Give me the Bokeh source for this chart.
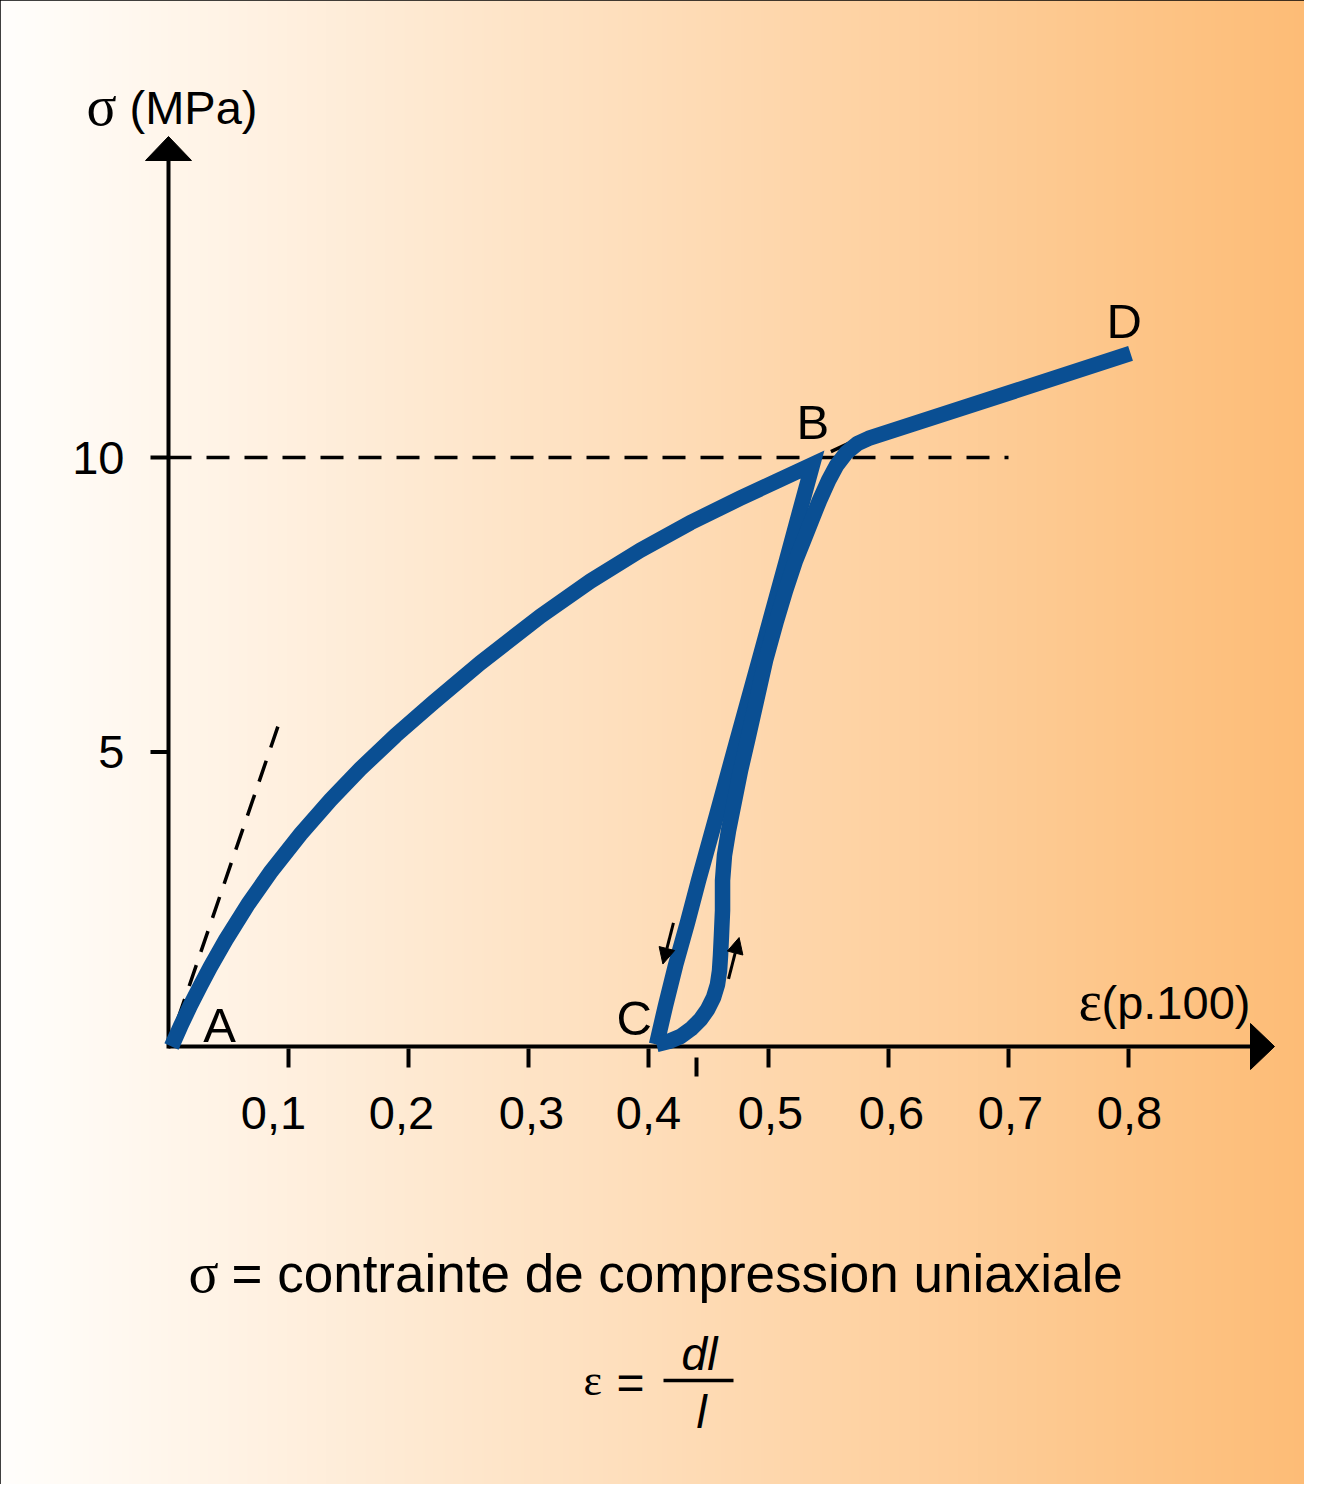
import numpy as np
from bokeh.plotting import figure
from bokeh.models import Range1d, Arrow, NormalHead
from bokeh.core.properties import value
from bokeh.embed import file_html
from bokeh.resources import INLINE

# ---------------- data (strain in %, stress in MPa) ----------------
load_eps = [0.0025, 0.010, 0.0183, 0.0267, 0.035, 0.0475, 0.0667, 0.085, 0.110, 0.135, 0.160,
            0.1892, 0.2208, 0.260, 0.310, 0.3517, 0.3933, 0.435, 0.4767, 0.5067, 0.5367]
load_sig = [0.0, 0.343, 0.700, 1.036, 1.355, 1.803, 2.428, 2.959, 3.606, 4.187, 4.716,
            5.280, 5.842, 6.513, 7.307, 7.902, 8.428, 8.895, 9.311, 9.598, 9.880]

unload_eps = [0.5367, 0.5267, 0.515, 0.4933, 0.4733, 0.4567, 0.4417, 0.4325, 0.4225, 0.4142, 0.4067]
unload_sig = [9.880, 9.134, 8.251, 6.638, 5.161, 3.922, 2.818, 2.105, 1.375, 0.696, 0.034]

reload_eps = [0.4067, 0.4167, 0.4267, 0.4358, 0.4433, 0.4492, 0.4542, 0.4575, 0.4592, 0.4600,
              0.4608, 0.4617, 0.4617, 0.4633, 0.4667, 0.4717, 0.4767, 0.4825, 0.4900, 0.4975,
              0.5067, 0.5142, 0.5225, 0.5292, 0.5358, 0.5425, 0.5500, 0.5567, 0.5650, 0.5742,
              0.5833, 0.8017]
reload_sig = [0.034, 0.085, 0.170, 0.306, 0.458, 0.628, 0.832, 1.053, 1.290, 1.545,
              1.885, 2.309, 2.818, 3.243, 3.667, 4.177, 4.686, 5.195, 5.874, 6.553,
              7.233, 7.742, 8.251, 8.591, 8.930, 9.270, 9.610, 9.864, 10.085, 10.238,
              10.323, 11.766]

x_ticks = [0.1, 0.2, 0.3, 0.4, 0.5, 0.6, 0.7, 0.8]
x_tick_labels = ["0,1", "0,2", "0,3", "0,4", "0,5", "0,6", "0,7", "0,8"]
y_ticks = [5, 10]
y_tick_labels = ["5", "10"]
extra_tick = [0.44]

tangent_eps = [0.0, 0.094]
tangent_sig = [0.0, 5.6]
b_tangent_eps = [0.552, 0.574]
b_tangent_sig = [10.10, 10.31]
ref_eps = [0.0, 0.7]
ref_sig = [10.0, 10.0]

point_names = ["A", "B", "C", "D"]
point_eps = [0.029, 0.5233, 0.3733, 0.7817]
point_sig = [0.36, 10.60, 0.48, 12.31]

# unload / reload direction arrows near C
arrow_down = dict(x0=0.4208, y0=2.10, x1=0.4120, y1=1.40)
arrow_up = dict(x0=0.4667, y0=1.15, x1=0.4755, y1=1.85)

# ---------------- layout ----------------
W, H = 1304, 1484
XS = 1200.0   # px per unit strain
YS = 58.9     # px per MPa
OX, OY = 168, 1046   # origin in canvas pixels
x_label_nudge = [-15, -7, 3, 0, 2, 3, 2, 1]   # px, horizontal shift of x tick labels

def px2x(px):
    return (px - OX) / XS

def py2y(py):
    return (OY - py) / YS

X0, X1 = px2x(0), px2x(W)
Y0, Y1 = py2y(H), py2y(0)

p = figure(width=W, height=H, x_range=Range1d(X0, X1), y_range=Range1d(Y0, Y1),
           x_axis_type=None, y_axis_type=None, toolbar_location=None,
           output_backend="svg", min_border=0)
p.grid.visible = False
p.outline_line_color = "black"
p.outline_line_width = 4
p.background_fill_color = "white"

# background gradient (white -> orange)
N = W
t = np.linspace(0, 1, N)
c0 = np.array([255, 254, 252])
c1 = np.array([253, 188, 118])
img = np.empty((1, N), dtype=np.uint32)
view = img.view(dtype=np.uint8).reshape((1, N, 4))
for k in range(3):
    view[0, :, k] = np.round(c0[k] + (c1[k] - c0[k]) * t).astype(np.uint8)
view[0, :, 3] = 255
p.image_rgba(image=[img], x=X0, y=Y0, dw=X1 - X0, dh=Y1 - Y0)

SANS = value("Liberation Sans")
SERIF = value("Liberation Serif")
BLUE = "#0a4f93"

# dashed reference lines
p.line(ref_eps, ref_sig, line_color="black", line_width=3.5, line_dash="23 15")
p.line(tangent_eps, tangent_sig, line_color="black", line_width=3.5, line_dash="22 14", line_dash_offset=8)
p.line(b_tangent_eps, b_tangent_sig, line_color="black", line_width=3.5)

# axes
ax_top = py2y(160)
ax_right = px2x(1250)
p.segment(x0=[0, 0], y0=[py2y(1048), 0], x1=[0, ax_right], y1=[ax_top, 0],
          line_color="black", line_width=4)
hw_x = 23 / XS
hw_y = 23 / YS
p.patch([-hw_x, hw_x, 0], [ax_top, ax_top, py2y(136)], color="black")
p.patch([ax_right, ax_right, px2x(1274)], [-hw_y, hw_y, 0], color="black")

# ticks
p.segment(x0=x_ticks, y0=[py2y(1048)] * len(x_ticks), x1=x_ticks, y1=[py2y(1067)] * len(x_ticks),
          line_color="black", line_width=4)
p.segment(x0=extra_tick, y0=[py2y(1057)], x1=extra_tick, y1=[py2y(1076)],
          line_color="black", line_width=4)
p.segment(x0=[px2x(150)] * len(y_ticks), y0=y_ticks, x1=[0] * len(y_ticks), y1=y_ticks,
          line_color="black", line_width=4)

# tick labels
p.text(x=[v + n / XS for v, n in zip(x_ticks, x_label_nudge)], y=[py2y(1112)] * len(x_ticks),
       text=x_tick_labels, text_font=SANS,
       text_font_size=value("47px"), text_align="center", text_baseline="middle", text_color="black")
p.text(x=[px2x(124)] * len(y_ticks), y=y_ticks, text=y_tick_labels, text_font=SANS,
       text_font_size=value("47px"), text_align="right", text_baseline="middle", text_color="black")

# curve
p.line(load_eps + unload_eps[1:], load_sig + unload_sig[1:], line_color=BLUE, line_width=15.5,
       line_join="miter", line_cap="butt")
p.line(reload_eps, reload_sig, line_color=BLUE, line_width=15.5, line_join="round", line_cap="butt")

# direction arrows
for a in (arrow_down, arrow_up):
    p.add_layout(Arrow(x_start=a["x0"], y_start=a["y0"], x_end=a["x1"], y_end=a["y1"],
                       line_color="black", line_width=3,
                       end=NormalHead(size=16, fill_color="black", line_color="black", line_width=1)))

# point labels
p.text(x=point_eps, y=point_sig, text=point_names, text_font=SANS, text_font_size=value("49px"),
       text_align="left", text_baseline="middle", text_color="black")

# axis titles
p.text(x=[px2x(86)], y=[py2y(105)], text=["σ"], text_font=SERIF, text_font_size=value("56px"),
       text_align="left", text_baseline="middle", text_color="black")
p.text(x=[px2x(129)], y=[py2y(107)], text=["(MPa)"], text_font=SANS, text_font_size=value("47px"),
       text_align="left", text_baseline="middle", text_color="black")
p.text(x=[px2x(1078)], y=[py2y(1000)], text=["ε"], text_font=SERIF, text_font_size=value("56px"),
       text_align="left", text_baseline="middle", text_color="black")
p.text(x=[px2x(1101)], y=[py2y(1002)], text=["(p.100)"], text_font=SANS, text_font_size=value("47px"),
       text_align="left", text_baseline="middle", text_color="black")

# caption
p.text(x=[px2x(188)], y=[py2y(1272)], text=["σ"], text_font=SERIF, text_font_size=value("56px"),
       text_align="left", text_baseline="middle", text_color="black")
p.text(x=[px2x(231)], y=[py2y(1273)], text=["= contrainte de compression uniaxiale"], text_font=SANS,
       text_font_size=value("53px"), text_align="left", text_baseline="middle", text_color="black")

# formula eps = dl / l
p.text(x=[px2x(583)], y=[py2y(1380)], text=["ε"], text_font=SERIF, text_font_size=value("44px"),
       text_align="left", text_baseline="middle", text_color="black")
p.text(x=[px2x(630)], y=[py2y(1382)], text=["="], text_font=SANS, text_font_size=value("48px"),
       text_align="center", text_baseline="middle", text_color="black")
p.segment(x0=[px2x(663)], y0=[py2y(1380)], x1=[px2x(733)], y1=[py2y(1380)], line_color="black", line_width=3.5)
p.text(x=[px2x(699)], y=[py2y(1353)], text=["dl"], text_font=SANS, text_font_size=value("46px"),
       text_font_style="italic", text_align="center", text_baseline="middle", text_color="black")
p.text(x=[px2x(701)], y=[py2y(1411)], text=["l"], text_font=SANS, text_font_size=value("46px"),
       text_font_style="italic", text_align="center", text_baseline="middle", text_color="black")

open("out.html", "w").write(file_html(p, INLINE))
